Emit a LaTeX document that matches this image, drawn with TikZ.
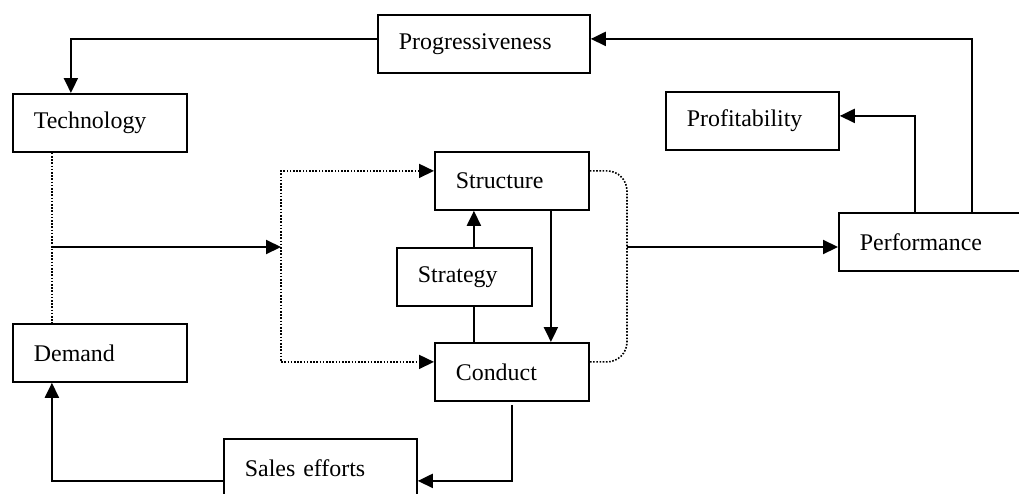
\documentclass[tikz,border=0pt]{standalone}
\usepackage{fontspec}
\setmainfont{Liberation Serif}
\usetikzlibrary{arrows.meta}
\tikzset{
  box/.style={draw,line width=1.8pt,anchor=north west,minimum height=58pt,
    text width=#1,align=left,inner xsep=21pt,inner ysep=0pt},
  link/.style={line width=2.1pt,-{Triangle[length=15pt,width=14pt]}},
  dots/.style={line width=1.6pt,dash pattern=on 1.6pt off 1.6pt}
}
\begin{document}
\begin{tikzpicture}[x=1pt,y=-1pt,font=\fontsize{23.9}{28}\selectfont]
  \useasboundingbox (0,0) rectangle (1019,493);
  \clip (0,0) rectangle (1019,493);
  \node[box=170pt] (prog) at (377,14) {Progressiveness};
  \node[box=132pt] (tech) at (12,93) {Technology};
  \node[box=131pt] (prof) at (665,91) {Profitability};
  \node[box=112pt] (struct) at (434,151) {Structure};
  \node[box=93pt] (strat) at (396,247) {Strategy};
  \node[box=112pt] (cond) at (434,342) {Conduct};
  \node[box=132pt] (demand) at (12,323) {Demand};
  \node[box=158pt] (perf) at (838,212) {Performance};
  \node[box=151pt] (sales) at (223,438) {Sales efforts};
  \coordinate (tj) at (51,247);
  \coordinate (lb) at (281,247);
  \coordinate (rb) at (627,247);
  % feedback loops along the top
  \draw[link] ([yshift=5pt]prog.west) -| ([xshift=-29pt]tech.north);
  \draw[link] ([xshift=134pt]perf.north west) |- ([yshift=5pt]prog.east);
  \draw[link] ([xshift=77pt]perf.north west) |- ([yshift=5pt]prof.east);
  % basic conditions
  \draw[dots] ([xshift=-48pt]tech.south) -- ([xshift=-48pt]demand.north);
  \draw[link] (tj) -- (lb);
  \draw[dots,{Triangle[length=15pt,width=14pt]}-{Triangle[length=15pt,width=14pt]}]
    ([yshift=10pt]struct.west) -| (lb) |- ([yshift=10pt]cond.west);
  \draw[link] ([xshift=9.5pt]strat.north) -- ([xshift=-38pt]struct.south);
  \draw[line width=2.1pt] ([xshift=9.5pt]strat.south) -- ([xshift=-38pt]cond.north);
  \draw[link] ([xshift=39pt]struct.south) -- ([xshift=39pt]cond.north);
  \draw[dots,rounded corners=20pt]
    ([yshift=10pt]struct.east) -| (rb) |- ([yshift=10pt]cond.east);
  \draw[link] (rb) -- (rb -| perf.west);
  % sales efforts back to demand
  \draw[link] ([yshift=-3pt]cond.south) |- ([yshift=-13pt]sales.east);
  \draw[link] ([yshift=-13pt]sales.west) -| ([xshift=-48pt]demand.south);
\end{tikzpicture}
\end{document}
